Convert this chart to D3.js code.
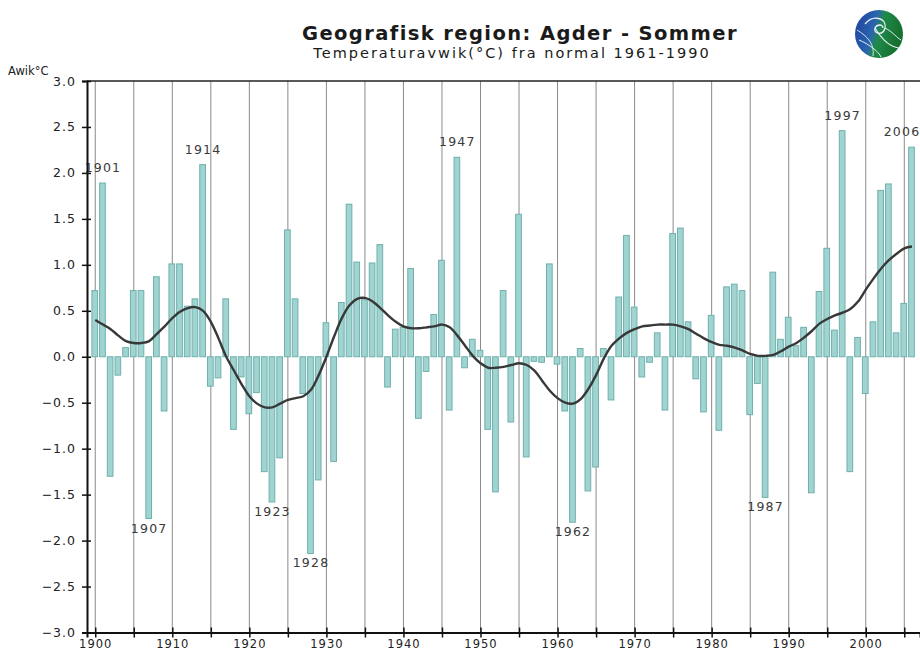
<!DOCTYPE html>
<html>
<head>
<meta charset="utf-8">
<script src="https://cdn.jsdelivr.net/npm/d3@7"></script>
<style>
  html, body { margin: 0; padding: 0; background: #fff; overflow: hidden; }
  svg { display: block; }
</style>
</head>
<body>
<svg id="chart" width="920" height="651"></svg>
<script>
const years = d3.range(1900, 2007);
const anomalies = [
  0.72, 1.89, -1.30, -0.20, 0.10, 0.72, 0.72, -1.76, 0.87, -0.59,
  1.01, 1.01, 0.55, 0.63, 2.09, -0.32, -0.23, 0.63, -0.79, -0.22,
  -0.62, -0.39, -1.25, -1.58, -1.10, 1.38, 0.63, -0.40, -2.14, -1.34,
  0.37, -1.14, 0.59, 1.66, 1.03, 0.62, 1.02, 1.22, -0.33, 0.30,
  0.32, 0.96, -0.67, -0.16, 0.46, 1.05, -0.58, 2.17, -0.12, 0.19,
  0.07, -0.79, -1.47, 0.72, -0.71, 1.55, -1.09, -0.05, -0.06, 1.01,
  -0.08, -0.59, -1.80, 0.09, -1.46, -1.20, 0.09, -0.47, 0.65, 1.32,
  0.54, -0.22, -0.06, 0.26, -0.58, 1.34, 1.40, 0.38, -0.24, -0.60,
  0.45, -0.80, 0.76, 0.79, 0.72, -0.63, -0.29, -1.53, 0.92, 0.19,
  0.43, 0.12, 0.32, -1.48, 0.71, 1.18, 0.29, 2.46, -1.25, 0.21,
  -0.40, 0.38, 1.81, 1.88, 0.26, 0.58, 2.28
];
const smoothed = [
  0.40, 0.35, 0.30, 0.23, 0.17, 0.15, 0.15, 0.17, 0.25, 0.33,
  0.42, 0.49, 0.53, 0.54, 0.50, 0.38, 0.20, 0.00, -0.15, -0.30,
  -0.43, -0.51, -0.55, -0.55, -0.51, -0.47, -0.45, -0.43, -0.36, -0.20,
  0.00, 0.22, 0.42, 0.56, 0.63, 0.64, 0.60, 0.53, 0.45, 0.38,
  0.33, 0.31, 0.31, 0.32, 0.33, 0.35, 0.32, 0.23, 0.12, 0.01,
  -0.07, -0.12, -0.12, -0.11, -0.09, -0.07, -0.09, -0.15, -0.26, -0.37,
  -0.45, -0.50, -0.51, -0.46, -0.35, -0.20, -0.02, 0.12, 0.20, 0.26,
  0.30, 0.33, 0.34, 0.35, 0.35, 0.35, 0.33, 0.30, 0.25, 0.20,
  0.16, 0.13, 0.12, 0.10, 0.07, 0.03, 0.01, 0.01, 0.02, 0.06,
  0.11, 0.15, 0.21, 0.28, 0.36, 0.41, 0.45, 0.48, 0.52, 0.60,
  0.73, 0.85, 0.96, 1.05, 1.12, 1.18, 1.20
];
const labelYears = [1901, 1907, 1914, 1923, 1928, 1947, 1962, 1987, 1997, 2006];
const yTicks = d3.range(-3, 3.001, 0.5);
const xMinorTicks = d3.range(1900, 2006, 5);
const xLabelTicks = d3.range(1900, 2006, 10);

const titleText = "Geografisk region: Agder - Sommer";
const subtitleText = "Temperaturavwik(°C) fra normal 1961-1990";
const yAxisTitle = "Awik°C";

const svg = d3.select("#chart");
const pLeft = 87, pRight = 920, pTop = 81, pBottom = 632.5;

const x = d3.scaleLinear().domain([1898.93, 2007.04]).range([pLeft, pRight]);
const y = d3.scaleLinear().domain([-3, 3]).range([pBottom, pTop]);

// Header
svg.append("text").attr("x", 520).attr("y", 40).attr("text-anchor", "middle")
  .attr("font-family", "DejaVu Sans").attr("font-weight", "bold").attr("font-size", 19.5)
  .attr("letter-spacing", 1.4)
  .attr("fill", "#1a1a1a").text(titleText);
svg.append("text").attr("x", 512).attr("y", 58).attr("text-anchor", "middle")
  .attr("font-family", "DejaVu Sans").attr("font-size", 14.5)
  .attr("letter-spacing", 2)
  .attr("fill", "#1a1a1a").text(subtitleText);

// Logo
const defs = svg.append("defs");
const grad = defs.append("linearGradient").attr("id", "globe").attr("x1", "0").attr("y1", "0").attr("x2", "1").attr("y2", "0.3");
grad.append("stop").attr("offset", "0%").attr("stop-color", "#1d3f9a");
grad.append("stop").attr("offset", "45%").attr("stop-color", "#2b64b0");
grad.append("stop").attr("offset", "60%").attr("stop-color", "#1f8a4a");
grad.append("stop").attr("offset", "100%").attr("stop-color", "#16702f");
const logo = svg.append("g").attr("transform", "translate(879,34)");
logo.append("circle").attr("r", 24).attr("fill", "url(#globe)");
logo.append("path").attr("d", "M-14,-10 C-6,-20 8,-16 6,-6 C4,2 -6,0 -4,-6 C-2,-10 4,-10 4,-6")
  .attr("fill", "none").attr("stroke", "#e8f0f8").attr("stroke-width", 1.3);
logo.append("path").attr("d", "M-4,-6 C2,4 10,14 22,14").attr("fill", "none").attr("stroke", "#e8f0f8").attr("stroke-width", 1.2);
logo.append("path").attr("d", "M6,-6 C14,-2 18,4 22,6").attr("fill", "none").attr("stroke", "#e8f0f8").attr("stroke-width", 1);
logo.append("path").attr("d", "M-20,6 C-10,10 0,18 2,23").attr("fill", "none").attr("stroke", "#e8f0f8").attr("stroke-width", 1);
logo.append("path").attr("d", "M-22,-4 C-12,2 -4,10 -6,22").attr("fill", "none").attr("stroke", "#dfe9f4").attr("stroke-width", 0.9);

// Vertical grid
svg.append("g").selectAll("line").data(xMinorTicks).join("line")
  .attr("x1", d => x(d)).attr("x2", d => x(d))
  .attr("y1", pTop).attr("y2", pBottom)
  .attr("stroke", "#8a8a8a").attr("stroke-width", 1);

// Bars
const barW = (x(1901) - x(1900)) * 0.74;
svg.append("g").selectAll("rect").data(years).join("rect")
  .attr("x", (d) => x(d) - barW / 2 - 0.5)
  .attr("width", barW)
  .attr("y", (d, i) => Math.min(y(anomalies[i]), y(0)))
  .attr("height", (d, i) => Math.abs(y(anomalies[i]) - y(0)))
  .attr("fill", "#a0d4d1").attr("stroke", "#6fb0ad").attr("stroke-width", 1);

// Smoothed curve
const line = d3.line().x((d, i) => x(years[i])).y(d => y(d)).curve(d3.curveCatmullRom);
svg.append("path").datum(smoothed).attr("d", line)
  .attr("fill", "none").attr("stroke", "#383838").attr("stroke-width", 2.4);

// Extreme labels
svg.append("g").selectAll("text").data(labelYears).join("text")
  .attr("x", d => Math.min(x(d), 902))
  .attr("y", d => {
    const v = anomalies[d - 1900];
    return v >= 0 ? y(v) - 11 : y(v) + 14;
  })
  .attr("text-anchor", "middle")
  .attr("font-family", "DejaVu Sans").attr("font-size", 12.5)
  .attr("letter-spacing", 1.2)
  .attr("fill", "#3a3a3a").text(d => d);

// Frame top
svg.append("line").attr("x1", pLeft).attr("x2", pRight).attr("y1", pTop).attr("y2", pTop)
  .attr("stroke", "#222").attr("stroke-width", 1.5);

// Y axis
const yAxis = svg.append("g").attr("transform", `translate(${pLeft},0)`)
  .call(d3.axisLeft(y).tickValues(yTicks).tickFormat(d3.format(".1f")).tickSize(5).tickPadding(6));
yAxis.select(".domain").attr("stroke", "#111").attr("stroke-width", 2);
yAxis.selectAll(".tick line").attr("x1", -5).attr("x2", 4).attr("stroke", "#111").attr("stroke-width", 1.5);
yAxis.selectAll(".tick text").attr("font-family", "DejaVu Sans").attr("font-size", 12.5)
  .attr("letter-spacing", 1).attr("fill", "#222");

// X axis
const xAxis = svg.append("g").attr("transform", `translate(0,${pBottom})`)
  .call(d3.axisBottom(x).tickValues(xMinorTicks).tickSize(5).tickFormat(d => (d % 10 === 0 ? d : "")).tickPadding(2));
xAxis.select(".domain").attr("stroke", "#111").attr("stroke-width", 2);
xAxis.selectAll(".tick line").attr("y1", -5).attr("y2", 5).attr("stroke", "#111").attr("stroke-width", 1.5);
xAxis.selectAll(".tick text").attr("font-family", "DejaVu Sans").attr("font-size", 11.5)
  .attr("letter-spacing", 1).attr("fill", "#222");

// Y axis title
svg.append("text").attr("x", 8).attr("y", 75)
  .attr("font-family", "DejaVu Sans").attr("font-size", 11.5).attr("fill", "#222").text(yAxisTitle);
</script>
</body>
</html>
